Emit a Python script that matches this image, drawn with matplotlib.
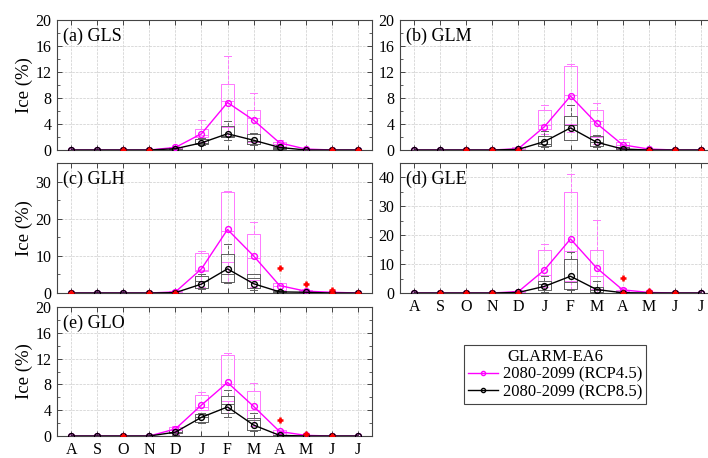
"""
Monthly lake ice fraction under two scenarios (GLARM-EA6, 2080-2099).

Five panels, one per lake, with boxplots of the ensemble spread and the
ensemble mean drawn on top for RCP4.5 and RCP8.5.
"""

import matplotlib
matplotlib.use('Agg')
import matplotlib.pyplot as plt
from matplotlib.lines import Line2D
from matplotlib.ticker import MultipleLocator

plt.rcParams['font.family'] = 'Liberation Serif'
plt.rcParams['mathtext.fontset'] = 'stix'

MONTHS = ['A', 'S', 'O', 'N', 'D', 'J', 'F', 'M', 'A', 'M', 'J', 'J']

# Ensemble means (%), August..July
GLS_MEAN45 = [0, 0, 0, 0, 0.4, 2.5, 7.3, 4.6, 1.1, 0.15, 0, 0]
GLS_MEAN85 = [0, 0, 0, 0, 0.2, 1.1, 2.5, 1.5, 0.4, 0, 0, 0]
GLM_MEAN45 = [0, 0, 0, 0, 0.2, 3.6, 8.3, 4.1, 0.8, 0.15, 0, 0]
GLM_MEAN85 = [0, 0, 0, 0, 0.1, 1.3, 3.4, 1.2, 0.15, 0, 0, 0]
GLH_MEAN45 = [0, 0, 0, 0, 0.3, 6.5, 17.1, 10.0, 2.0, 0.5, 0.2, 0]
GLH_MEAN85 = [0, 0, 0, 0, 0.1, 2.4, 6.5, 2.5, 0.3, 0.2, 0, 0]
GLE_MEAN45 = [0, 0, 0, 0, 0.5, 8.0, 18.7, 8.7, 1.1, 0.2, 0, 0]
GLE_MEAN85 = [0, 0, 0, 0, 0.2, 2.3, 5.8, 1.2, 0.1, 0, 0, 0]
GLO_MEAN45 = [0, 0, 0, 0, 1.1, 4.8, 8.3, 4.6, 0.7, 0.1, 0, 0]
GLO_MEAN85 = [0, 0, 0, 0, 0.6, 2.9, 4.5, 1.7, 0.1, 0, 0, 0]

# Box statistics: (month no., whisker low, q1, median, q3, whisker high)
GLS_BOX45 = [(5, 0.1, 0.2, 0.3, 0.5, 0.6), (6, 1.2, 2.05, 2.3, 3.2, 4.6),
             (7, 2.0, 3.5, 7.5, 10.1, 14.4), (8, 1.0, 1.3, 5.0, 6.15, 8.7),
             (9, 0.3, 0.6, 1.0, 1.3, 1.5), (10, 0, 0.05, 0.1, 0.2, 0.3)]
GLS_BOX85 = [(5, 0.05, 0.1, 0.2, 0.3, 0.4), (6, 0.8, 1.0, 1.1, 1.75, 1.9),
             (7, 1.6, 2.05, 2.2, 3.7, 4.4), (8, 0.8, 1.0, 1.4, 2.4, 2.6),
             (9, 0.1, 0.2, 0.3, 0.5, 0.7)]
GLM_BOX45 = [(5, 0, 0.1, 0.2, 0.4, 0.5), (6, 2.5, 3.2, 3.8, 6.1, 6.9),
             (7, 2.8, 4.0, 8.5, 13.0, 13.2), (8, 1.0, 2.0, 4.5, 6.1, 7.2),
             (9, 0.1, 0.3, 0.8, 1.3, 1.7), (10, 0, 0.05, 0.1, 0.2, 0.3)]
GLM_BOX85 = [(6, 0.4, 0.65, 1.0, 2.15, 2.9), (7, 1.5, 1.6, 3.9, 5.3, 7.0),
             (8, 0.4, 0.6, 1.3, 2.1, 2.3), (9, 0, 0.05, 0.15, 0.5, 0.7)]
GLH_BOX45 = [(5, 0, 0.1, 0.3, 0.6, 0.8), (6, 1.5, 5.9, 6.2, 10.8, 11.3),
             (7, 3.0, 8.4, 16.6, 27.3, 27.5), (8, 1.5, 3.5, 9.4, 16.0, 19.1),
             (9, 0.3, 0.9, 1.8, 2.6, 2.8), (10, 0.1, 0.3, 0.5, 0.8, 1.0)]
GLH_BOX85 = [(6, 1.0, 1.35, 3.2, 4.5, 5.2), (7, 2.8, 3.0, 5.1, 10.4, 13.2),
             (8, 0.8, 1.4, 4.0, 5.0, 5.2), (9, 0, 0.1, 0.3, 0.5, 0.7)]
GLE_BOX45 = [(5, 0, 0.2, 0.5, 0.8, 1.0), (6, 2.0, 3.2, 6.1, 14.8, 16.8),
             (7, 1.5, 4.0, 14.6, 34.8, 41.2), (8, 0.5, 1.4, 6.0, 14.8, 25.4),
             (9, 0.1, 0.3, 0.7, 1.2, 1.6), (10, 0, 0.05, 0.1, 0.3, 0.4)]
GLE_BOX85 = [(6, 0.5, 1.2, 3.0, 4.1, 5.8), (7, 1.0, 1.4, 3.7, 11.7, 14.3),
             (8, 0.1, 0.2, 1.0, 2.1, 4.0), (9, 0, 0.05, 0.1, 0.2, 0.3)]
GLO_BOX45 = [(5, 0.3, 0.5, 1.0, 1.4, 1.6), (6, 4.0, 4.1, 4.5, 6.4, 6.8),
             (7, 3.5, 5.4, 8.0, 12.6, 12.8), (8, 1.5, 2.8, 4.0, 6.9, 8.2),
             (9, 0.1, 0.2, 0.5, 0.9, 1.0), (10, 0, 0.05, 0.1, 0.2, 0.3)]
GLO_BOX85 = [(5, 0.2, 0.4, 0.6, 0.9, 1.1), (6, 2.0, 2.2, 3.0, 3.4, 3.6),
             (7, 3.0, 3.5, 5.0, 6.2, 7.2), (8, 0.8, 1.0, 2.5, 2.8, 3.5),
             (9, 0, 0.05, 0.1, 0.2, 0.3)]

# Outliers: (month no., value)
GLS_OUT = [(3, 0), (4, 0), (11, 0), (12, 0)]
GLM_OUT = [(3, 0), (4, 0), (5, 0), (10, 0), (11, 0), (12, 0)]
GLH_OUT = [(1, 0), (4, 0), (5, 0), (9, 6.6), (10, 2.4), (11, 0.7), (11, 0), (12, 0)]
GLE_OUT = [(2, 0), (3, 0), (4, 0), (5, 0), (9, 5.2), (9, 0), (10, 0.7), (10, 0), (11, 0)]
GLO_OUT = [(3, 0), (9, 2.5), (10, 0.3), (11, 0)]

COL45 = '#ff00ff'
COL45_BOX = '#ff77ff'
COL85 = '#000000'
COL85_BOX = '#606060'
FRAME = '#444444'

W, H = 708, 458


def axes_rect(left, top, right, bottom):
    """Pixel box -> figure fraction rect."""
    return [left / W, 1 - bottom / H, (right - left) / W, (bottom - top) / H]


def draw_boxes(ax, boxes, color):
    stats = [dict(whislo=b[1], q1=b[2], med=b[3], q3=b[4], whishi=b[5])
             for b in boxes]
    pos = [b[0] for b in boxes]
    lp = dict(color=color, linewidth=0.7)
    ax.bxp(stats, positions=pos, widths=0.5, capwidths=0.25,
           showfliers=False, manage_ticks=False,
           boxprops=lp, medianprops=lp, capprops=lp,
           whiskerprops=dict(color=color, linewidth=0.7, linestyle='--'),
           zorder=2)


def draw_panel(ax, name, mean45, mean85, box45, box85, outliers,
               ytop, ystep, yminor, xlabels=False, ylabel=True):
    x = list(range(1, len(MONTHS) + 1))

    draw_boxes(ax, box45, COL45_BOX)
    draw_boxes(ax, box85, COL85_BOX)

    ax.plot(x, mean45, '-o', color=COL45, lw=1.0, ms=4.2, mfc='none',
            mew=1.0, zorder=4)
    ax.plot(x, mean85, '-o', color=COL85, lw=1.0, ms=4.2, mfc='none',
            mew=1.0, zorder=5)

    if outliers:
        ox = [o[0] for o in outliers]
        oy = [o[1] for o in outliers]
        ax.plot(ox, oy, '+', color='red', ms=5, mew=1.8, zorder=6)

    ax.set_xlim(0.45, 12.55)
    ax.set_ylim(0, ytop)
    ax.set_xticks(x)
    ax.set_xticklabels(MONTHS if xlabels else [])
    ax.yaxis.set_major_locator(MultipleLocator(ystep))
    ax.yaxis.set_minor_locator(MultipleLocator(yminor))

    ax.grid(True, which='major', color='#cccccc', linestyle='--',
            linewidth=0.5, zorder=0)
    ax.set_axisbelow(True)

    ax.tick_params(which='both', direction='in', top=True, right=True,
                   color=FRAME, labelsize=11.5)
    ax.tick_params(which='major', length=3.5, width=0.7)
    ax.tick_params(which='minor', length=2, width=0.6)
    ax.tick_params(axis='x', pad=4)
    ax.tick_params(axis='y', pad=4)
    for sp in ax.spines.values():
        sp.set_color(FRAME)
        sp.set_linewidth(0.8)

    if ylabel:
        ax.set_ylabel('Ice (%)', fontsize=13.5, labelpad=2)
    ax.text(0.02, 0.94, name, transform=ax.transAxes, ha='left', va='top',
            fontsize=13)


fig = plt.figure(figsize=(W / 100, H / 100), dpi=100)

ax_a = fig.add_axes(axes_rect(57, 20, 372, 150))
ax_b = fig.add_axes(axes_rect(400, 20, 715, 150))
ax_c = fig.add_axes(axes_rect(57, 163, 372, 293))
ax_d = fig.add_axes(axes_rect(400, 163, 715, 293))
ax_e = fig.add_axes(axes_rect(57, 307, 372, 436))

draw_panel(ax_a, '(a) GLS', GLS_MEAN45, GLS_MEAN85, GLS_BOX45, GLS_BOX85,
           GLS_OUT, 20, 4, 2)
draw_panel(ax_b, '(b) GLM', GLM_MEAN45, GLM_MEAN85, GLM_BOX45, GLM_BOX85,
           GLM_OUT, 20, 4, 2, ylabel=False)
draw_panel(ax_c, '(c) GLH', GLH_MEAN45, GLH_MEAN85, GLH_BOX45, GLH_BOX85,
           GLH_OUT, 35, 10, 5)
draw_panel(ax_d, '(d) GLE', GLE_MEAN45, GLE_MEAN85, GLE_BOX45, GLE_BOX85,
           GLE_OUT, 45, 10, 5, xlabels=True, ylabel=False)
draw_panel(ax_e, '(e) GLO', GLO_MEAN45, GLO_MEAN85, GLO_BOX45, GLO_BOX85,
           GLO_OUT, 20, 4, 2, xlabels=True)

# Legend sits in the empty slot under panel (d)
handles = [
    Line2D([], [], color=COL45, lw=1.0, marker='o', ms=3, mfc='none'),
    Line2D([], [], color=COL85, lw=1.0, marker='o', ms=3, mfc='none'),
]
leg = fig.legend(handles, ['2080-2099 (RCP4.5)', '2080-2099 (RCP8.5)'],
                 title='GLARM-EA6', loc='center',
                 bbox_to_anchor=(555 / W, 1 - 374.5 / H),
                 fontsize=12, title_fontsize=12, handlelength=1.8,
                 handletextpad=0.3, borderpad=0.25, labelspacing=0.1,
                 fancybox=False, framealpha=1, edgecolor=FRAME)
leg.get_frame().set_linewidth(0.8)

fig.savefig('out.png', dpi=100)
